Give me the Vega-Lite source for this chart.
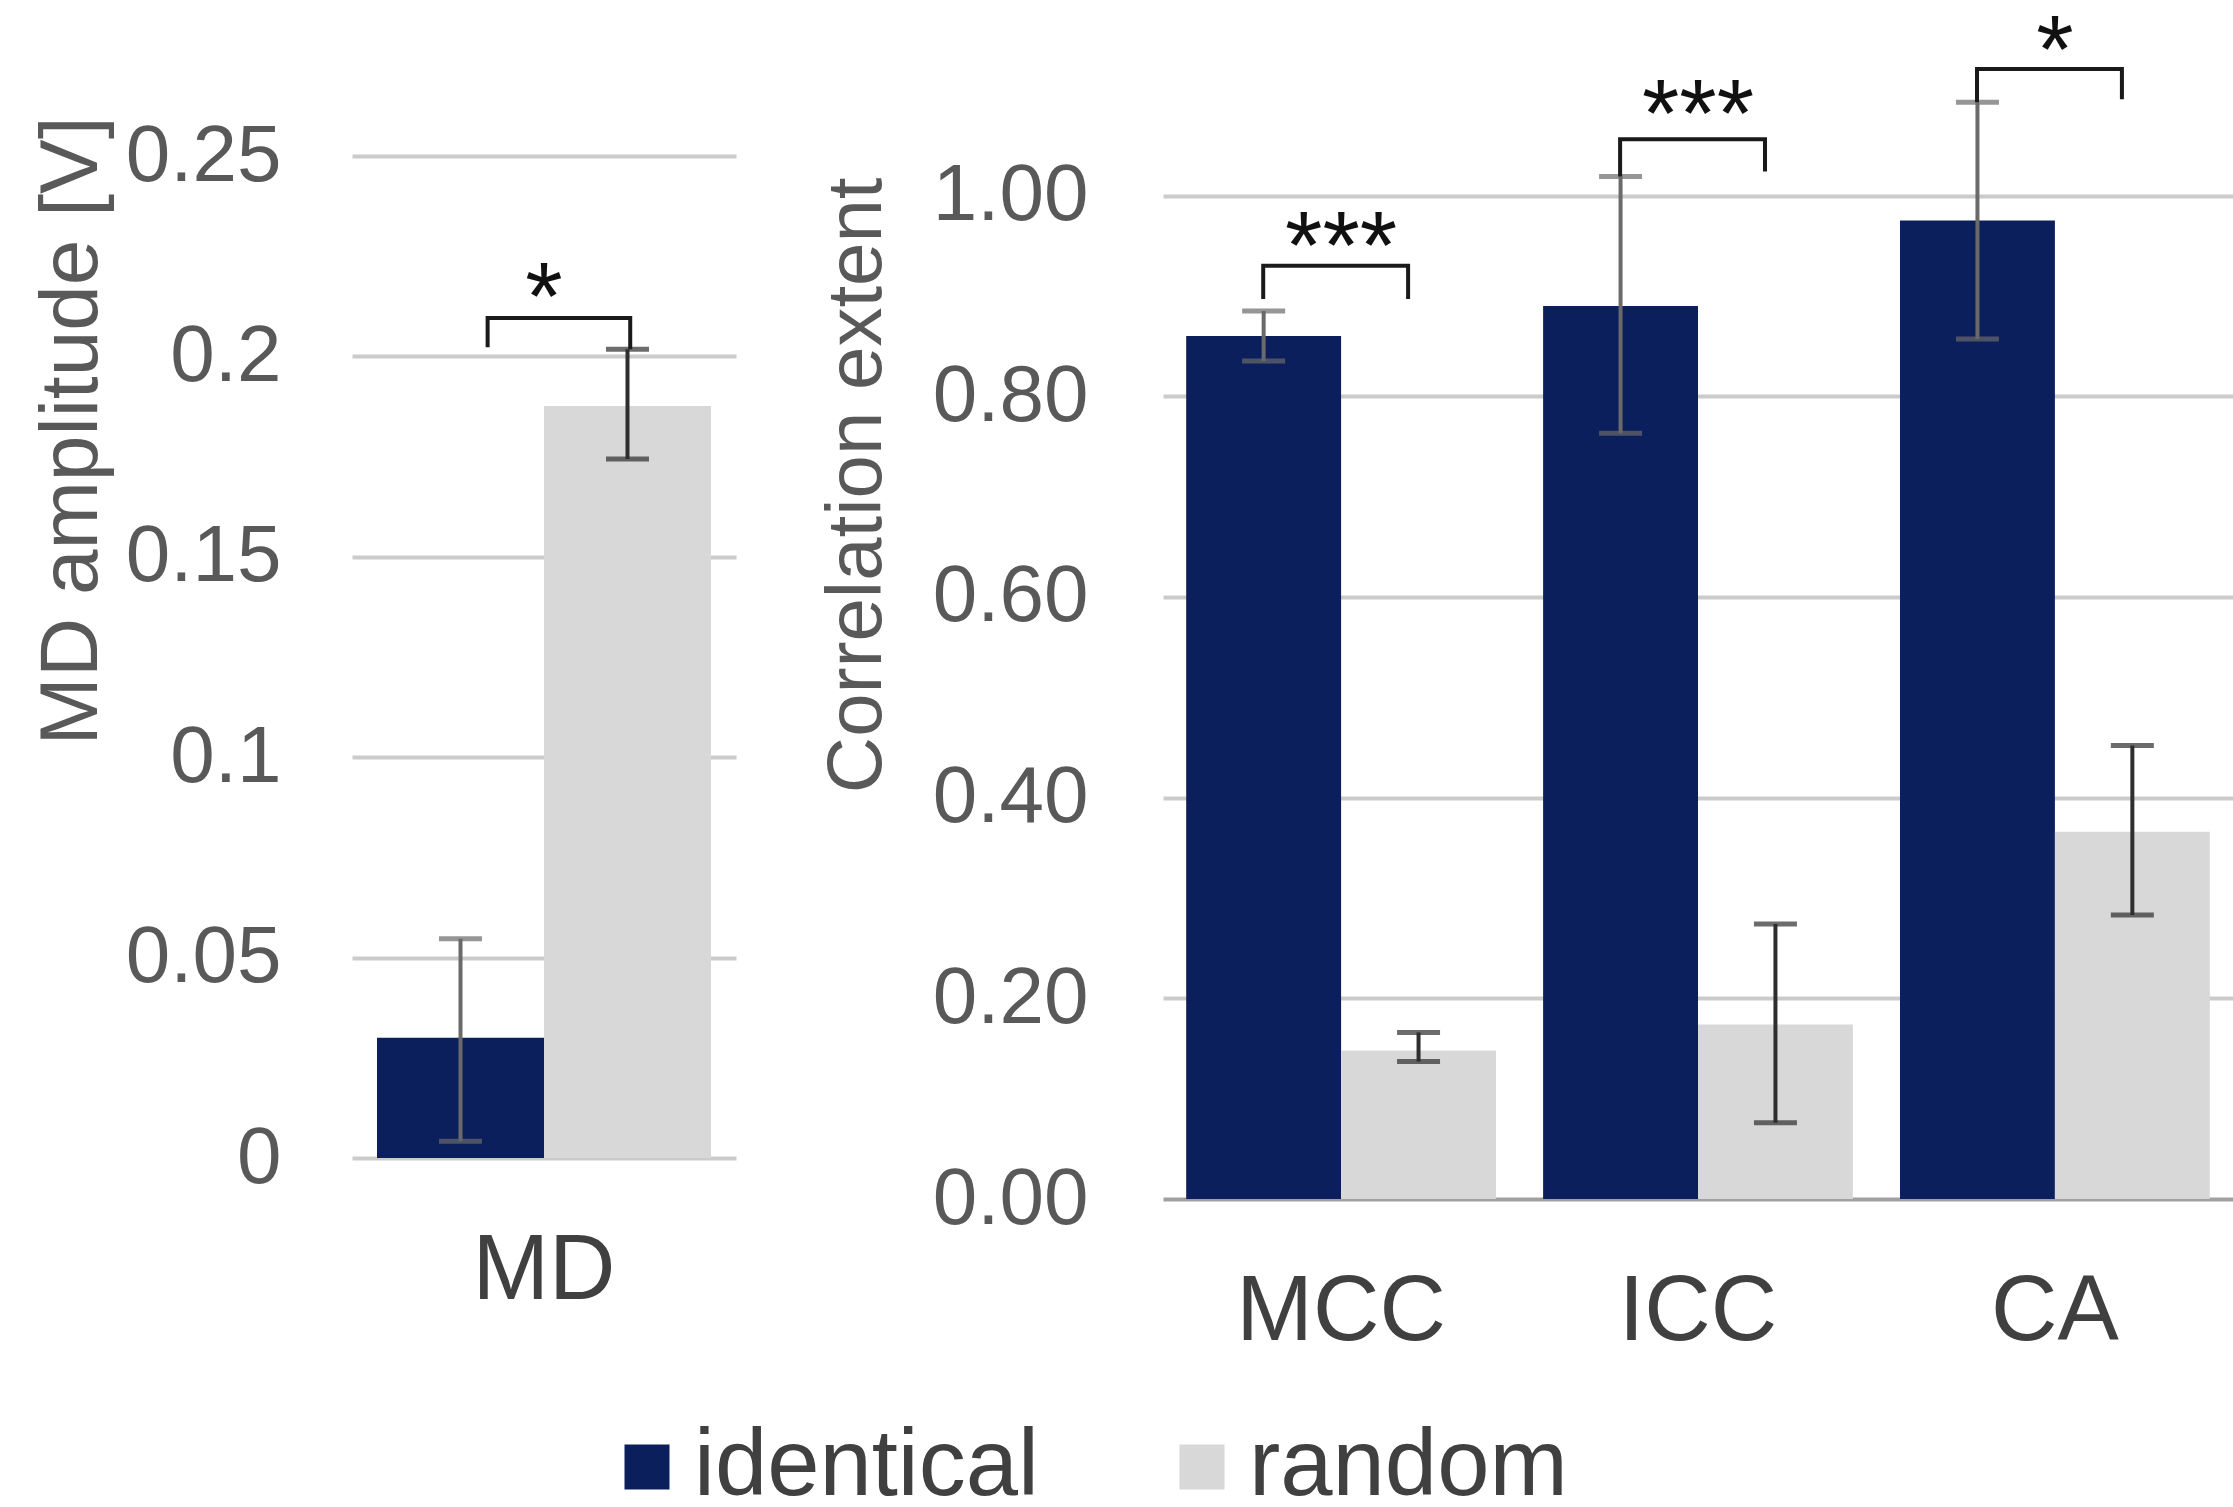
{
  "$schema": "https://vega.github.io/schema/vega-lite/v6.json",
  "background": "white",
  "padding": {"left": 30, "top": 4, "right": 0, "bottom": 0},
  "bounds": "flush",
  "spacing": 427,
  "datasets": {
    "md": [
      {"cat": "MD", "group": "identical", "mean": 0.030, "lo": 0.0042, "hi": 0.0547},
      {"cat": "MD", "group": "random", "mean": 0.1876, "lo": 0.1744, "hi": 0.2018}
    ],
    "corr": [
      {"cat": "MCC", "group": "identical", "mean": 0.860, "lo": 0.835, "hi": 0.885},
      {"cat": "MCC", "group": "random", "mean": 0.148, "lo": 0.137, "hi": 0.166},
      {"cat": "ICC", "group": "identical", "mean": 0.890, "lo": 0.763, "hi": 1.019},
      {"cat": "ICC", "group": "random", "mean": 0.174, "lo": 0.076, "hi": 0.274},
      {"cat": "CA", "group": "identical", "mean": 0.975, "lo": 0.857, "hi": 1.093},
      {"cat": "CA", "group": "random", "mean": 0.366, "lo": 0.283, "hi": 0.452}
    ],
    "mdBracket": [
      {"cat": "MD", "group": "identical", "step": 1, "y": 0.2023},
      {"cat": "MD", "group": "identical", "step": 2, "y": 0.2096},
      {"cat": "MD", "group": "random", "step": 3, "y": 0.2096},
      {"cat": "MD", "group": "random", "step": 4, "y": 0.2018}
    ],
    "corrBracket": [
      {"cat": "MCC", "group": "identical", "step": 1, "y": 0.897},
      {"cat": "MCC", "group": "identical", "step": 2, "y": 0.930},
      {"cat": "MCC", "group": "random", "step": 3, "y": 0.930},
      {"cat": "MCC", "group": "random", "step": 4, "y": 0.897},
      {"cat": "ICC", "group": "identical", "step": 1, "y": 1.019},
      {"cat": "ICC", "group": "identical", "step": 2, "y": 1.056},
      {"cat": "ICC", "group": "random", "step": 3, "y": 1.056},
      {"cat": "ICC", "group": "random", "step": 4, "y": 1.024},
      {"cat": "CA", "group": "identical", "step": 1, "y": 1.093},
      {"cat": "CA", "group": "identical", "step": 2, "y": 1.126},
      {"cat": "CA", "group": "random", "step": 3, "y": 1.126},
      {"cat": "CA", "group": "random", "step": 4, "y": 1.096}
    ],
    "mdStars": [{"cat": "MD", "label": "*", "y": 0.2206}],
    "corrStars": [
      {"cat": "MCC", "label": "***", "y": 0.973},
      {"cat": "ICC", "label": "***", "y": 1.104},
      {"cat": "CA", "label": "*", "y": 1.168}
    ]
  },
  "hconcat": [
    {
      "width": 384,
      "height": 1002,
      "resolve": {"scale": {"xOffset": "independent"}},
      "layer": [
        {
          "data": {"name": "md"},
          "mark": {"type": "bar"},
          "encoding": {
            "x": {"field": "cat", "type": "nominal", "title": null, "scale": {"paddingInner": 0.132, "paddingOuter": 0.065},
              "axis": {"title": null, "labelAngle": 0, "labelFontSize": 92, "labelLimit": 0, "labelColor": "#404040", "labelBaseline": "alphabetic", "labelPadding": 140, "ticks": false, "tickSize": 0, "domain": false, "grid": false}},
            "xOffset": {"field": "group", "type": "nominal", "scale": {"domain": ["identical", "random"], "paddingInner": 0, "paddingOuter": 0}},
            "y": {"field": "mean", "type": "quantitative", "title": "MD amplitude [V]", "scale": {"domain": [0, 0.25], "nice": false},
              "axis": {"title": "MD amplitude [V]", "values": [0, 0.05, 0.1, 0.15, 0.2, 0.25], "format": "~g",
                "labelFontSize": 80, "labelColor": "#595959", "labelPadding": 71, "labelLimit": 0, "ticks": false, "tickSize": 0, "domain": false,
                "grid": true, "gridColor": "#cbcbcb", "gridWidth": 4,
                "titleFontSize": 82, "titleFontWeight": "normal", "titleColor": "#595959", "titleAngle": 270,
                "titleAlign": "right", "titleBaseline": "alphabetic", "titleX": -256, "titleY": -40, "titleLimit": 0}},
            "color": {"field": "group", "type": "nominal",
              "scale": {"domain": ["identical", "random"], "range": ["#0c1f5d", "#d8d8d8"]},
              "legend": {"orient": "none", "legendX": 248, "legendY": 1264, "direction": "horizontal", "title": null,
                "symbolType": "square", "symbolSize": 2025, "symbolStrokeWidth": 0, "labelFontSize": 94, "labelLimit": 0,
                "labelColor": "#404040", "labelOffset": 0, "columnPadding": 116, "padding": 0}}
          }
        },
        {
          "data": {"name": "md"},
          "mark": {"type": "rule", "strokeWidth": 4},
          "encoding": {
            "x": {"field": "cat", "type": "nominal", "title": null},
            "xOffset": {"field": "group", "type": "nominal", "scale": {"domain": ["identical", "random"], "paddingInner": 0, "paddingOuter": 0}},
            "y": {"field": "lo", "type": "quantitative", "title": "MD amplitude [V]"},
            "y2": {"field": "hi"},
            "color": {"condition": {"test": "datum.group === 'identical'", "value": "#6a6a6a"}, "value": "#2e2e2e"}
          }
        },
        {
          "data": {"name": "md"},
          "mark": {"type": "tick", "size": 43, "thickness": 5},
          "encoding": {
            "x": {"field": "cat", "type": "nominal", "title": null},
            "xOffset": {"field": "group", "type": "nominal", "scale": {"domain": ["identical", "random"], "paddingInner": 0, "paddingOuter": 0}},
            "y": {"field": "lo", "type": "quantitative", "title": "MD amplitude [V]"},
            "color": {"condition": {"test": "datum.group === 'identical'", "value": "#6a6a6a"}, "value": "#2e2e2e"}
          }
        },
        {
          "data": {"name": "md"},
          "mark": {"type": "tick", "size": 43, "thickness": 5},
          "encoding": {
            "x": {"field": "cat", "type": "nominal", "title": null},
            "xOffset": {"field": "group", "type": "nominal", "scale": {"domain": ["identical", "random"], "paddingInner": 0, "paddingOuter": 0}},
            "y": {"field": "hi", "type": "quantitative", "title": "MD amplitude [V]"},
            "color": {"condition": {"test": "datum.group === 'identical'", "value": "#6a6a6a"}, "value": "#2e2e2e"}
          }
        },
        {
          "data": {"name": "mdBracket"},
          "mark": {"type": "line", "strokeWidth": 4, "color": "#1a1a1a"},
          "encoding": {
            "x": {"field": "cat", "type": "nominal", "title": null},
            "xOffset": {"field": "group", "type": "nominal", "scale": {"type": "point", "domain": ["identical", "random"], "padding": 0.671, "align": 0.578}},
            "y": {"field": "y", "type": "quantitative", "title": "MD amplitude [V]"},
            "detail": {"field": "cat"},
            "order": {"field": "step", "type": "quantitative"}
          }
        },
        {
          "data": {"name": "mdStars"},
          "mark": {"type": "text", "fontSize": 96, "font": "Liberation Sans", "color": "#111111", "baseline": "alphabetic", "dy": 55},
          "encoding": {
            "x": {"field": "cat", "type": "nominal", "title": null},
            "y": {"field": "y", "type": "quantitative", "title": "MD amplitude [V]"},
            "text": {"field": "label"}
          }
        }
      ]
    },
    {
      "width": 1070,
      "height": 1043,
      "resolve": {"scale": {"xOffset": "independent"}},
      "layer": [
        {
          "data": {"name": "corr"},
          "mark": {"type": "bar"},
          "encoding": {
            "x": {"field": "cat", "type": "nominal", "title": null, "scale": {"domain": ["MCC", "ICC", "CA"], "paddingInner": 0.132, "paddingOuter": 0.065},
              "axis": {"title": null, "labelAngle": 0, "labelFontSize": 92, "labelLimit": 0, "labelColor": "#404040", "labelBaseline": "alphabetic", "labelPadding": 140, "ticks": false, "tickSize": 0, "domain": false, "grid": false}},
            "xOffset": {"field": "group", "type": "nominal", "scale": {"domain": ["identical", "random"], "paddingInner": 0, "paddingOuter": 0}},
            "y": {"field": "mean", "type": "quantitative", "title": "Correlation extent", "scale": {"domain": [0, 1.0394], "nice": false},
              "axis": {"title": "Correlation extent", "values": [0, 0.2, 0.4, 0.6, 0.8, 1.0], "format": ".2f",
                "labelFontSize": 80, "labelColor": "#595959", "labelPadding": 75, "labelLimit": 0, "ticks": false, "tickSize": 0, "domain": false,
                "grid": true, "gridColor": {"condition": {"test": "datum.value === 0", "value": "#a0a0a0"}, "value": "#cbcbcb"}, "gridWidth": 4,
                "titleFontSize": 78, "titleFontWeight": "normal", "titleColor": "#595959", "titleAngle": 270,
                "titleAlign": "right", "titleBaseline": "alphabetic", "titleX": -283, "titleY": 21, "titleLimit": 0}},
            "color": {"field": "group", "type": "nominal",
              "scale": {"domain": ["identical", "random"], "range": ["#0c1f5d", "#d8d8d8"]}}
          }
        },
        {
          "data": {"name": "corr"},
          "mark": {"type": "rule", "strokeWidth": 4},
          "encoding": {
            "x": {"field": "cat", "type": "nominal", "title": null},
            "xOffset": {"field": "group", "type": "nominal", "scale": {"domain": ["identical", "random"], "paddingInner": 0, "paddingOuter": 0}},
            "y": {"field": "lo", "type": "quantitative", "title": "Correlation extent"},
            "y2": {"field": "hi"},
            "color": {"condition": {"test": "datum.group === 'identical'", "value": "#6a6a6a"}, "value": "#2e2e2e"}
          }
        },
        {
          "data": {"name": "corr"},
          "mark": {"type": "tick", "size": 43, "thickness": 5},
          "encoding": {
            "x": {"field": "cat", "type": "nominal", "title": null},
            "xOffset": {"field": "group", "type": "nominal", "scale": {"domain": ["identical", "random"], "paddingInner": 0, "paddingOuter": 0}},
            "y": {"field": "lo", "type": "quantitative", "title": "Correlation extent"},
            "color": {"condition": {"test": "datum.group === 'identical'", "value": "#6a6a6a"}, "value": "#2e2e2e"}
          }
        },
        {
          "data": {"name": "corr"},
          "mark": {"type": "tick", "size": 43, "thickness": 5},
          "encoding": {
            "x": {"field": "cat", "type": "nominal", "title": null},
            "xOffset": {"field": "group", "type": "nominal", "scale": {"domain": ["identical", "random"], "paddingInner": 0, "paddingOuter": 0}},
            "y": {"field": "hi", "type": "quantitative", "title": "Correlation extent"},
            "color": {"condition": {"test": "datum.group === 'identical'", "value": "#6a6a6a"}, "value": "#2e2e2e"}
          }
        },
        {
          "data": {"name": "corrBracket"},
          "mark": {"type": "line", "strokeWidth": 4, "color": "#1a1a1a"},
          "encoding": {
            "x": {"field": "cat", "type": "nominal", "title": null},
            "xOffset": {"field": "group", "type": "nominal", "scale": {"type": "point", "domain": ["identical", "random"], "padding": 0.569, "align": 0.467}},
            "y": {"field": "y", "type": "quantitative", "title": "Correlation extent"},
            "detail": {"field": "cat"},
            "order": {"field": "step", "type": "quantitative"}
          }
        },
        {
          "data": {"name": "corrStars"},
          "mark": {"type": "text", "fontSize": 96, "font": "Liberation Sans", "color": "#111111", "baseline": "alphabetic", "dy": 55},
          "encoding": {
            "x": {"field": "cat", "type": "nominal", "title": null},
            "y": {"field": "y", "type": "quantitative", "title": "Correlation extent"},
            "text": {"field": "label"}
          }
        }
      ]
    }
  ],
  "resolve": {"scale": {"color": "shared", "xOffset": "independent", "x": "independent", "y": "independent"}},
  "config": {
    "view": {"stroke": null},
    "font": "Liberation Sans",
    "axis": {"labelFont": "Liberation Sans", "titleFont": "Liberation Sans"},
    "legend": {"labelFont": "Liberation Sans"}
  }
}
